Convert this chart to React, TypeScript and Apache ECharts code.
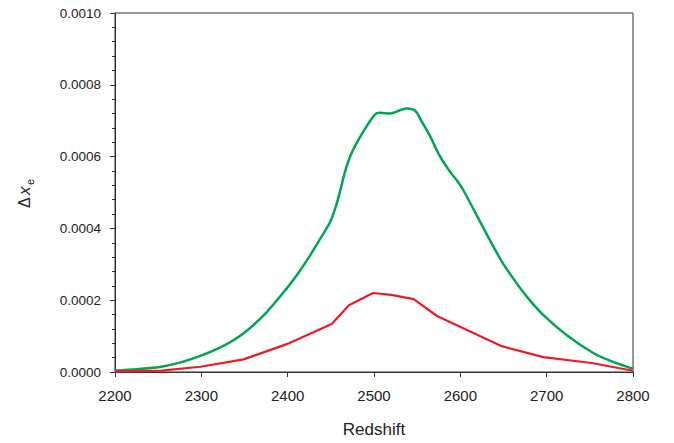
import React, { useEffect, useRef } from "react";
import * as echarts from "echarts";

const greenZ = [2200, 2225, 2252, 2275, 2298, 2325, 2349, 2375, 2399, 2413, 2426, 2438, 2449, 2455, 2460, 2465, 2470, 2476, 2488, 2501, 2507, 2519, 2530, 2538, 2548, 2555, 2565, 2575, 2586, 2598, 2605, 2621, 2646, 2660, 2677, 2696, 2723, 2754, 2777, 2800];
const greenVal = [0.000004, 0.000008, 0.000014, 0.000026, 0.000044, 0.000072, 0.000108, 0.000165, 0.000233, 0.000278, 0.000325, 0.000372, 0.000417, 0.000455, 0.000497, 0.000545, 0.000585, 0.00062, 0.000671, 0.000717, 0.000722, 0.00072, 0.000729, 0.000734, 0.000727, 0.000699, 0.000657, 0.000607, 0.000565, 0.000527, 0.0005, 0.000427, 0.000316, 0.000265, 0.00021, 0.000159, 0.000103, 0.000053, 0.000028, 0.000009];

const redZ = [2200, 2254, 2299, 2349, 2399, 2451, 2471, 2499, 2520, 2546, 2573, 2648, 2696, 2752, 2800];
const redVal = [0.000002, 0.0000036, 0.0000147, 0.0000352, 0.0000776, 0.000134, 0.000186, 0.00022, 0.000215, 0.000203, 0.000156, 0.000072, 0.0000415, 0.000025, 0.0000036];

const xTicks = [2200, 2300, 2400, 2500, 2600, 2700, 2800];
const yTicks = [0, 0.0002, 0.0004, 0.0006, 0.0008, 0.001];

export default function App() {
  const ref = useRef<HTMLDivElement>(null);
  useEffect(() => {
    if (!ref.current) return;
    const chart = echarts.init(ref.current, null, { renderer: "svg" });
    const font = "'Liberation Sans', Arial, sans-serif";
    chart.setOption({
      animation: false,
      grid: { left: 115, right: 41, top: 13, bottom: 69, show: true, borderColor: "#333", borderWidth: 1 },
      xAxis: {
        type: "value",
        min: xTicks[0],
        max: xTicks[xTicks.length - 1],
        interval: 100,
        name: "Redshift",
        nameLocation: "middle",
        nameGap: 49,
        nameTextStyle: { fontSize: 17, color: "#222", fontFamily: font },
        axisLine: { lineStyle: { color: "#333" } },
        axisTick: { length: 5, lineStyle: { color: "#333" } },
        axisLabel: { fontSize: 15, color: "#222", fontFamily: font, margin: 16, formatter: (v: number) => String(v) },
        splitLine: { show: false },
      },
      yAxis: {
        type: "value",
        min: yTicks[0],
        max: yTicks[yTicks.length - 1],
        interval: 0.0002,
        axisLine: { show: true, lineStyle: { color: "#333" } },
        axisTick: { show: true, length: 5, lineStyle: { color: "#333" } },
        minorTick: { show: true, splitNumber: 5, length: 3, lineStyle: { color: "#333" } },
        axisLabel: {
          fontSize: 13.5,
          color: "#222",
          fontFamily: font,
          margin: 14,
          formatter: (v: number) => v.toFixed(4),
        },
        splitLine: { show: false },
      },
      graphic: [
        {
          type: "group",
          x: 24,
          y: 200,
          rotation: Math.PI / 2,
          children: [
            { type: "text", x: -8, y: 0, style: { text: "Δ", font: `16px ${font}`, fill: "#222", verticalAlign: "middle", align: "left" } },
            { type: "text", x: 5, y: 0, style: { text: "x", font: `italic 17px ${font}`, fill: "#222", verticalAlign: "middle", align: "left" } },
            { type: "text", x: 15, y: 6, style: { text: "e", font: `11px ${font}`, fill: "#222", verticalAlign: "middle", align: "left" } },
          ],
        },
      ],
      series: [
        {
          type: "line",
          data: greenZ.map((z, i) => [z, greenVal[i]]),
          showSymbol: false,
          smooth: 0.3,
          lineStyle: { color: "#00A651", width: 2.5 },
          z: 3,
        },
        {
          type: "line",
          data: redZ.map((z, i) => [z, redVal[i]]),
          showSymbol: false,
          lineStyle: { color: "#ED1C24", width: 2.2 },
          z: 4,
        },
      ],
    });
    return () => chart.dispose();
  }, []);
  return <div ref={ref} style={{ width: 674, height: 443, position: "absolute", left: 0, top: 0 }} />;
}
